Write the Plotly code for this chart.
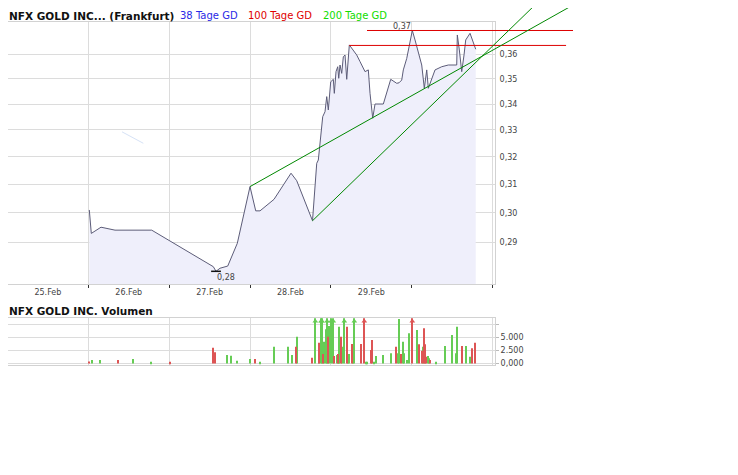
import math
import plotly.graph_objects as go

# ---------------- data ----------------
day_labels = ["25.Feb", "26.Feb", "27.Feb", "28.Feb", "29.Feb"]

# intraday position in trading days (0 = start of 25.Feb) and price in EUR
price_day = [1.0124, 1.0371, 1.1571, 1.3302, 1.7842, 2.5461, 2.5795, 2.6290, 2.7242, 2.8430,
             3.0000, 3.0705, 3.1237, 3.2968, 3.5071, 3.5776, 3.7730, 3.8040, 3.8250, 3.8448,
             3.8658, 3.8782, 3.8992, 3.9276, 3.9487, 3.9685, 3.9808, 3.9981, 4.0303, 4.0427,
             4.0637, 4.0847, 4.0971, 4.1132, 4.1342, 4.1540, 4.1750, 4.1960, 4.2282, 4.2579,
             4.3197, 4.3605, 4.4224, 4.4632, 4.4842, 4.5176, 4.5461, 4.6487, 4.7403, 4.8145,
             4.8429, 4.8763, 4.8961, 4.9382, 4.9790, 5.0074, 5.0408, 5.0816, 5.1237, 5.1558,
             5.1855, 5.2053, 5.2263, 5.2882, 5.3711, 5.4527, 5.5566, 5.5640, 5.5888, 5.6184,
             5.6469, 5.6679, 5.7211, 5.7619, 5.7916]
price_val = [0.3010, 0.2930, 0.2951, 0.2941, 0.2941, 0.2820, 0.2805, 0.2815, 0.2822, 0.2897,
             0.3092, 0.3007, 0.3007, 0.3047, 0.3140, 0.3113, 0.2973, 0.3092, 0.3176, 0.3188,
             0.3250, 0.3306, 0.3351, 0.3370, 0.3429, 0.3377, 0.3416, 0.3488, 0.3498, 0.3442,
             0.3529, 0.3549, 0.3502, 0.3556, 0.3522, 0.3590, 0.3597, 0.3498, 0.3639, 0.3625,
             0.3597, 0.3570, 0.3529, 0.3536, 0.3442, 0.3345, 0.3400, 0.3400, 0.3498, 0.3482,
             0.3484, 0.3495, 0.3536, 0.3583, 0.3660, 0.3700, 0.3660, 0.3604, 0.3556, 0.3462,
             0.3536, 0.3462, 0.3482, 0.3536, 0.3549, 0.3556, 0.3556, 0.3681, 0.3618, 0.3529,
             0.3597, 0.3660, 0.3688, 0.3646, 0.3621]

# faint fragment of the 38-day average
ma38_day = [1.417, 1.680]
ma38_val = [0.3293, 0.3250]

# chart-tool drawings: resistance levels and trend lines
resist_val = [0.3700, 0.3637]
resist_start = [4.447, 4.228]
resist_end = [6.995, 6.909]
trend_a_day = [3.000, 7.200]
trend_a_val = [0.3092, 0.3851]
trend_b_day = [3.773, 6.700]
trend_b_val = [0.2973, 0.3871]

price_ticks = [0.29, 0.30, 0.31, 0.32, 0.33, 0.34, 0.35, 0.36]
price_ticktext = ["0,29", "0,30", "0,31", "0,32", "0,33", "0,34", "0,35", "0,36"]

# volume bars (u = up/green, d = down/red)
vol_day = [1.0124, 1.0458, 1.1484, 1.3710, 1.5491, 1.7792, 2.0142, 2.5461, 2.5709, 2.7192,
           2.7650, 2.8429, 3.0000, 3.0656, 3.1274, 3.3005, 3.4737, 3.5158, 3.5652, 3.5850,
           3.7705, 3.8077, 3.8497, 3.8571, 3.8782, 3.8906, 3.9067, 3.9190, 3.9400, 3.9524,
           3.9685, 3.9808, 4.0019, 4.0303, 4.0427, 4.0724, 4.0847, 4.0971, 4.1045, 4.1255,
           4.1416, 4.1663, 4.2035, 4.2158, 4.2282, 4.2653, 4.2776, 4.2900, 4.3729, 4.4137,
           4.4347, 4.4508, 4.5003, 4.5127, 4.5374, 4.5547, 4.6487, 4.7477, 4.8095, 4.8343,
           4.8466, 4.8676, 4.8961, 4.9085, 4.9419, 4.9666, 5.0074, 5.0655, 5.0940, 5.1274,
           5.1360, 5.1558, 5.1682, 5.1769, 5.1979, 5.2102, 5.2226, 5.3042, 5.4156, 5.4984,
           5.5516, 5.5566, 5.6259, 5.6716, 5.7211, 5.7496, 5.7867]
vol_val = [385, 673, 673, 673, 865, 346, 346, 3038, 2154, 1635,
           1500, 538, 865, 865, 346, 3230, 3230, 1635, 3230, 5154,
           1115, 11000, 2788, 4000, 11000, 11000, 1827, 4192, 6577, 11000,
           5154, 7211, 11000, 11000, 1442, 1635, 1827, 4327, 7077, 5154,
           3230, 11000, 7077, 673, 1827, 3750, 1827, 11000, 3750, 11000,
           346, 346, 2596, 4519, 346, 1442, 1635, 1961, 3230, 1961,
           8558, 1827, 4192, 1961, 673, 5808, 11000, 6442, 3692, 2461,
           3230, 6769, 3692, 1308, 1442, 1000, 673, 346, 3365, 5481,
           1961, 7077, 3365, 3365, 1308, 2923, 4000]
vol_dir = ["d", "u", "u", "d", "u", "u", "d", "d", "d", "u",
           "u", "u", "u", "d", "u", "u", "u", "u", "d", "u",
           "d", "u", "u", "d", "u", "u", "d", "u", "u", "u",
           "d", "u", "u", "u", "d", "u", "d", "u", "u", "d",
           "u", "u", "d", "u", "u", "d", "u", "u", "d", "d",
           "u", "u", "d", "d", "u", "u", "u", "u", "d", "u",
           "u", "d", "u", "u", "u", "u", "d", "u", "d", "d",
           "u", "d", "d", "d", "u", "u", "d", "u", "u", "u",
           "u", "u", "d", "u", "u", "d", "d"]
vol_ticks = [0, 2500, 5000, 7500]
vol_ticktext = ["0,000", "2.500", "5.000", ""]

# ---------------- layout geometry (window pixels) ----------------
BODY = 8                       # default page margin around the plot div
W, H = 738 - BODY, 475 - BODY  # figure size


def fx(px):   # window x pixel -> paper fraction
    return max(0.0, (px - BODY) / W)


def fy(px):   # window y pixel -> paper fraction
    return min(1.0, 1 - (px - BODY) / H)


L_PX, R_PX = 8, 495
MAIN_TOP, MAIN_BOT = 21.7, 284
VOL_TOP, VOL_BOT = 318.3, 365

x_per_px = 6.048 / 489.0
x_range = [6.030 - (R_PX - L_PX) * x_per_px, 6.030]
y_range = [math.log10(0.27644), math.log10(0.37376)]
vol_range = [-290, 8690]

y_per_px = (y_range[1] - y_range[0]) / (MAIN_BOT - MAIN_TOP)
ov_x_range = [x_range[0], x_range[1] + (738 - R_PX) * x_per_px]
ov_y_range = [y_range[0], y_range[1] + (MAIN_TOP - BODY) * y_per_px]

GRID = "#dcdcdc"
BORDER = "#d2d2d2"
TICKFONT = dict(family="DejaVu Sans", size=8, color="#444444")
GREEN_V = "#66cc55"
RED_V = "#dd5555"

fig = go.Figure()

# fill baseline + price
fig.add_trace(go.Scatter(x=[price_day[0], price_day[-1]], y=[0.2, 0.2], mode="lines",
                         line=dict(width=0, color="rgba(0,0,0,0)"), hoverinfo="skip",
                         showlegend=False, xaxis="x", yaxis="y"))
fig.add_trace(go.Scatter(x=price_day, y=price_val, mode="lines", fill="tonexty",
                         fillcolor="#efeffb", line=dict(color="#5c5c78", width=1),
                         showlegend=False, xaxis="x", yaxis="y"))
fig.add_trace(go.Scatter(x=ma38_day, y=ma38_val, mode="lines",
                         line=dict(color="#d6e2f6", width=1), showlegend=False,
                         xaxis="x", yaxis="y"))
imin = price_val.index(min(price_val))
fig.add_trace(go.Scatter(x=[price_day[imin]], y=[price_val[imin]], mode="markers",
                         marker=dict(symbol="line-ew", size=7, line=dict(width=1.5, color="#111")),
                         showlegend=False, xaxis="x", yaxis="y", cliponaxis=False))

# drawings on overlay axes (extend past plot area)
for lv, s, e in zip(resist_val, resist_start, resist_end):
    fig.add_trace(go.Scatter(x=[s, e], y=[lv, lv], mode="lines",
                             line=dict(color="#dd0000", width=1), showlegend=False,
                             xaxis="x2", yaxis="y2"))
for tx, ty in ((trend_a_day, trend_a_val), (trend_b_day, trend_b_val)):
    fig.add_trace(go.Scatter(x=tx, y=ty, mode="lines", line=dict(color="#008800", width=1),
                             showlegend=False, xaxis="x2", yaxis="y2"))

# volume
arrow_level = vol_range[1] * 0.935
for d, col in (("u", GREEN_V), ("d", RED_V)):
    xs = [x for x, k in zip(vol_day, vol_dir) if k == d]
    ys = [v for v, k in zip(vol_val, vol_dir) if k == d]
    fig.add_trace(go.Bar(x=xs, y=ys, width=0.0135, marker=dict(color=col, line=dict(width=0)),
                         showlegend=False, xaxis="x3", yaxis="y3"))
    ax = [x for x, v in zip(xs, ys) if v > vol_range[1]]
    fig.add_trace(go.Scatter(x=ax, y=[arrow_level] * len(ax), mode="markers",
                             marker=dict(symbol="triangle-up", size=5, color=col),
                             showlegend=False, xaxis="x3", yaxis="y3", cliponaxis=False))

minor_grid = dict(tickmode="array", tickvals=list(range(0, 7)), showgrid=True,
                  gridcolor=GRID, gridwidth=1, ticks="outside", ticklen=3,
                  tickcolor="#333333", tickwidth=1)

fig.update_layout(
    width=W, height=H, margin=dict(l=0, r=0, t=0, b=0),
    paper_bgcolor="white", plot_bgcolor="rgba(0,0,0,0)",
    barmode="overlay", showlegend=False,
    xaxis=dict(domain=[fx(L_PX), fx(R_PX)], range=x_range, anchor="y",
               tickmode="array", tickvals=[i + 0.5 for i in range(len(day_labels))],
               ticktext=day_labels, ticks="", showgrid=False, zeroline=False,
               showline=True, mirror=True, linecolor=BORDER, linewidth=1,
               ticklabelstandoff=0, automargin=False,
               tickfont=TICKFONT, minor=minor_grid, fixedrange=True),
    yaxis=dict(domain=[fy(MAIN_BOT), fy(MAIN_TOP)], type="log", range=y_range, anchor="x",
               side="right", tickmode="array", tickvals=price_ticks, ticktext=price_ticktext,
               showgrid=True, gridcolor=GRID, gridwidth=1, ticks="", zeroline=False,
               showline=True, mirror=True, linecolor=BORDER, linewidth=1,
               ticklabelstandoff=2, automargin=False,
               tickfont=TICKFONT, fixedrange=True),
    xaxis2=dict(domain=[fx(L_PX), 1.0], range=ov_x_range, anchor="y2", visible=False,
                fixedrange=True),
    yaxis2=dict(domain=[fy(MAIN_BOT), 1.0], type="log", range=ov_y_range, anchor="x2",
                visible=False, fixedrange=True),
    xaxis3=dict(domain=[fx(L_PX), fx(R_PX)], range=x_range, anchor="y3",
                showticklabels=False, ticks="", showgrid=False, zeroline=False,
                showline=True, mirror=True, linecolor=BORDER, linewidth=1,
                minor=dict(tickmode="array", tickvals=list(range(0, 7)), showgrid=True,
                           gridcolor=GRID, gridwidth=1, ticks=""),
                automargin=False, fixedrange=True),
    yaxis3=dict(domain=[fy(VOL_BOT), fy(VOL_TOP)], range=vol_range, anchor="x3",
                side="right", tickmode="array", tickvals=vol_ticks, ticktext=vol_ticktext,
                showgrid=True, gridcolor=GRID, gridwidth=1, ticks="outside", ticklen=3,
                tickcolor="#bbbbbb", zeroline=False, showline=True, mirror=True,
                linecolor=BORDER, linewidth=1, tickfont=TICKFONT, automargin=False,
                fixedrange=True),
)

TITLE_FONT = dict(family="DejaVu Sans", size=10.5, color="#111111", weight="bold")
LEG_FONT = dict(family="DejaVu Sans", size=10)
HEAD_Y = 15.5
annos = [
    dict(text="NFX GOLD INC... (Frankfurt)", x=fx(8), y=fy(HEAD_Y), font=TITLE_FONT),
    dict(text="38 Tage GD", x=fx(179), y=fy(HEAD_Y), font=dict(LEG_FONT, color="#2a2ae6")),
    dict(text="100 Tage GD", x=fx(246.5), y=fy(HEAD_Y), font=dict(LEG_FONT, color="#e00000")),
    dict(text="200 Tage GD", x=fx(321.5), y=fy(HEAD_Y), font=dict(LEG_FONT, color="#11dd00")),
    dict(text="NFX GOLD INC. Volumen", x=fx(8), y=fy(310.5), font=TITLE_FONT),
]
for a in annos:
    fig.add_annotation(xref="paper", yref="paper", xanchor="left", yanchor="middle",
                       showarrow=False, borderpad=0, **a)

imax = price_val.index(max(price_val))
fig.add_annotation(x=price_day[imax], y=math.log10(price_val[imax]), xref="x", yref="y",
                   text="0," + f"{price_val[imax]:.2f}"[2:],
                   xanchor="right", yanchor="bottom", showarrow=False, borderpad=0,
                   yshift=-2, font=dict(family="DejaVu Sans", size=8, color="#444444"))
fig.add_annotation(x=price_day[imin], y=math.log10(price_val[imin]), xref="x", yref="y",
                   text="0," + f"{price_val[imin]:.2f}"[2:],
                   xanchor="left", yanchor="top", showarrow=False, borderpad=0,
                   yshift=-1, font=dict(family="DejaVu Sans", size=8, color="#444444"))

fig.write_html("out.html")
